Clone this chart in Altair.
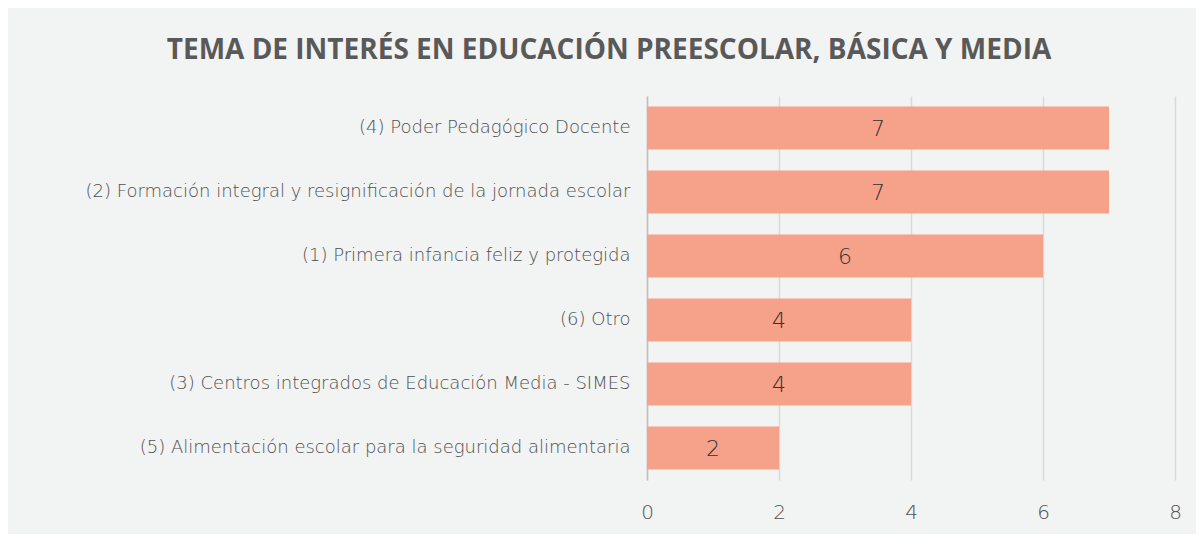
import altair as alt
import pandas as pd

categories = [
    "(4) Poder Pedagógico Docente",
    "(2) Formación integral y resignificación de la jornada escolar",
    "(1) Primera infancia feliz y protegida",
    "(6) Otro",
    "(3) Centros integrados de Educación Media - SIMES",
    "(5) Alimentación escolar para la seguridad alimentaria",
]
values = [7, 7, 6, 4, 4, 2]
x_ticks = [0, 2, 4, 6, 8]

df = pd.DataFrame({"tema": categories, "valor": values})

GRAY = "#595959"

y_enc = alt.Y("tema:N", sort=categories, title=None,
              scale=alt.Scale(paddingInner=0.33, paddingOuter=0.165),
              axis=alt.Axis(ticks=False, domain=True, domainColor="#bfbfbf", domainWidth=1.5,
                            labelFont="DejaVu Sans", labelFontSize=18, labelFontWeight=300,
                            labelColor="#505050", labelPadding=17, labelLimit=700, grid=False))
x_enc = alt.X("valor:Q", title=None,
              scale=alt.Scale(domain=[0, 8]),
              axis=alt.Axis(values=x_ticks, format="d", ticks=False, domain=False,
                            grid=True, gridColor="#d9d9d9", gridWidth=1.5,
                            labelFont="DejaVu Sans", labelFontSize=20, labelFontWeight=300,
                            labelColor="#505050", labelPadding=22, labelFlush=False,
                            labelAlign="center"))

bars = alt.Chart(df).mark_bar(color="#F6A189").encode(x=x_enc, y=y_enc)

text = alt.Chart(df).transform_calculate(half="datum.valor / 2").mark_text(
    font="DejaVu Sans", fontSize=22, fontWeight=300, color="#333333",
    baseline="middle", align="center", dy=1
).encode(x=alt.X("half:Q"), y=alt.Y("tema:N", sort=categories), text="valor:Q")

chart = (bars + text).properties(
    width=528, height=384,
    autosize=alt.AutoSizeParams(type="none"),
    padding={"left": 639, "top": 88, "right": 21, "bottom": 54},
    background="#f2f3f3",
    title=alt.TitleParams(
        "TEMA DE INTERÉS EN EDUCACIÓN PREESCOLAR, BÁSICA Y MEDIA",
        font="Open Sans", fontSize=28, fontWeight="bold", color=GRAY,
        anchor="middle", frame="group", dx=-302, offset=31,
    ),
).configure_view(stroke=None)

chart.save("out.html", embed_options={"renderer": "svg", "actions": False})
